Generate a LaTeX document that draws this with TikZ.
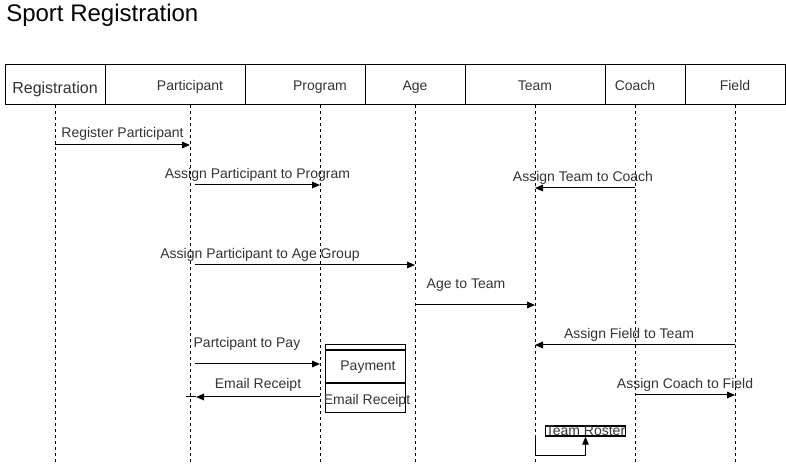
\documentclass[tikz,border=0pt]{standalone}
\usepackage{fontspec}
\setmainfont{Liberation Sans}
\usetikzlibrary{arrows.meta}
\definecolor{txtgray}{HTML}{333333}
\begin{document}
\begin{tikzpicture}[
    x=0.75pt, y=-0.75pt,
    hdr/.style={draw, line width=0.75pt, minimum height=30pt, inner sep=0pt},
    htext/.style={text=txtgray, font=\fontsize{10.5}{12}\selectfont, inner sep=0pt, anchor=base},
    life/.style={line width=0.75pt, dash pattern=on 2.25pt off 2.25pt},
    msg/.style={line width=0.75pt, -{Triangle[length=6pt, width=5pt]}},
    lbl/.style={text=txtgray, font=\fontsize{10.5}{12}\selectfont, inner sep=0pt},
    pbox/.style={draw, line width=0.75pt, minimum width=60pt, inner sep=0pt}
  ]
    \useasboundingbox (0,0) rectangle (786,466);

    \node[anchor=west, text=black, font=\fontsize{18}{21}\selectfont, inner sep=0pt]
      (title) at (6,15) {Sport Registration};

    % header boxes
    \node[hdr, minimum width=75pt]  (regBox)   at (55,85)  {};
    \node[hdr, minimum width=105pt] (partBox)  at (175,85) {};
    \node[hdr, minimum width=90pt]  (progBox)  at (305,85) {};
    \node[hdr, minimum width=75pt]  (ageBox)   at (415,85) {};
    \node[hdr, minimum width=105pt] (teamBox)  at (535,85) {};
    \node[hdr, minimum width=60pt]  (coachBox) at (645,85) {};
    \node[hdr, minimum width=75pt]  (fieldBox) at (735,85) {};

    \node[htext, font=\fontsize{12}{14}\selectfont] (regT) at (55,93.5) {Registration};
    \node[htext] (partT)  at (190,90.5) {Participant};
    \node[htext] (progT)  at (320,90.5) {Program};
    \node[htext] (ageT)   at (415,90.5) {Age};
    \node[htext] (teamT)  at (535,90.5) {Team};
    \node[htext] (coachT) at (635,90.5) {Coach};
    \node[htext] (fieldT) at (735,90.5) {Field};

    % lifelines
    \coordinate (reg)   at (55,105);
    \coordinate (part)  at (190,105);
    \coordinate (prog)  at (320,105);
    \coordinate (age)   at (415,105);
    \coordinate (team)  at (535,105);
    \coordinate (coach) at (635,105);
    \coordinate (field) at (735,105);
    \draw[life] (reg)   -- (reg |- 0,462);
    \draw[life] (part)  -- (part |- 0,462);
    \draw[life] (prog)  -- (prog |- 0,462);
    \draw[life] (age)   -- (age |- 0,462);
    \draw[life] (team)  -- (team |- 0,462);
    \draw[life] (coach) -- (coach |- 0,462);
    \draw[life] (field) -- (field |- 0,462);

    % payment activation
    \node[pbox, minimum height=3.75pt, anchor=north] (payTop)  at (365,344) {};
    \node[pbox, minimum height=24pt, anchor=north]   (payHead) at (payTop.south) {};
    \node[pbox, minimum height=21.75pt, anchor=north] (payBody) at (payHead.south) {};
    \node[lbl] (payT)  at (368,367.5) {Payment};
    \node[lbl] (mailT) at (367,401) {Email Receipt};

    % team roster
    \node[draw, line width=1.1pt, minimum width=60pt, minimum height=7.5pt, inner sep=0pt]
      (rosterBox) at (585.5,431) {};
    \node[lbl] (rosterT) at (585.5,431) {Team Roster};

    % messages
    \draw[msg] (reg |- 0,145) -- node[lbl, yshift=8pt] (m1) {Register Participant} (part |- 0,145);
    \draw[msg] ([xshift=3.75pt]part |- 0,185) -- node[lbl, yshift=7.5pt] (m2) {Assign Participant to Program} (prog |- 0,185);
    \draw[msg] (coach |- 0,188) -- node[lbl, yshift=7.5pt, xshift=-1.5pt] (m3) {Assign Team to Coach} (team |- 0,188);
    \draw[msg] ([xshift=3.75pt]part |- 0,265) -- node[lbl, yshift=7.5pt, xshift=-33.75pt] (m4) {Assign Participant to Age Group} (age |- 0,265);
    \draw[msg] (age |- 0,305) -- node[lbl, yshift=15pt, xshift=-6.75pt] (m5) {Age to Team} (team |- 0,305);
    \draw[msg] (field |- 0,345) -- node[lbl, yshift=7.5pt, xshift=-4.5pt] (m6) {Assign Field to Team} (team |- 0,345);
    \draw[msg] ([xshift=3.75pt]part |- 0,364) -- node[lbl, yshift=15pt, xshift=-7.9pt] (m7) {Partcipant to Pay} (prog |- 0,364);
    \coordinate (erEnd) at (186,397);
    \draw[msg] (prog |- erEnd) -- node[lbl, yshift=9pt] (m8) {Email Receipt} ([xshift=7.5pt]erEnd);
    \draw[line width=0.75pt] ([xshift=7.5pt]erEnd) -- (erEnd);
    \draw[msg] (coach |- 0,395) -- node[lbl, yshift=7.5pt] (m9) {Assign Coach to Field} (field |- 0,395);
    \draw[msg] (team |- rosterBox.south) -- ++(0,19) -| (rosterBox.south);
  \end{tikzpicture}
\end{document}
